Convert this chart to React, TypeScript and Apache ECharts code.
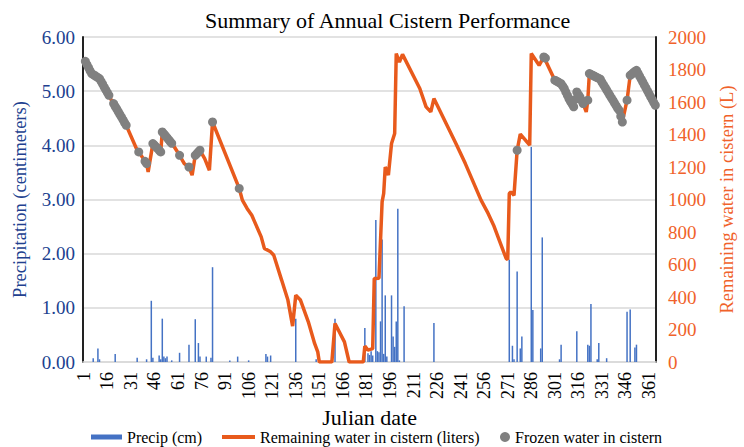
import React, { useEffect, useRef } from "react";
import * as echarts from "echarts";

const FONT = "Liberation Serif";

// Julian days 1..365
const days: string[] = Array.from({ length: 365 }, (_, i) => String(i + 1));

// Daily precipitation (cm), only days with rain: [day, cm]
const precip: [number, number][] = [
  [7, 0.07], [10, 0.25], [11, 0.05], [21, 0.15], [35, 0.08], [41, 0.05],
  [44, 1.13], [45, 0.08], [49, 0.12], [50, 0.05], [51, 0.8], [52, 0.1],
  [53, 0.07], [54, 0.1], [57, 0.03], [62, 0.17], [68, 0.32], [72, 0.79],
  [74, 0.35], [75, 0.1], [79, 0.1], [82, 0.08], [83, 1.75], [94, 0.03],
  [99, 0.1], [106, 0.03], [117, 0.15], [118, 0.1], [120, 0.12], [136, 0.8],
  [149, 0.05], [161, 0.8], [180, 0.63], [182, 0.16], [183, 0.13], [184, 0.2],
  [185, 0.12], [187, 2.62], [188, 0.2], [189, 0.18], [190, 0.75], [191, 2.26],
  [192, 0.15], [193, 1.23], [194, 0.1], [197, 1.23], [198, 0.47], [199, 0.28],
  [200, 0.75], [201, 2.83], [202, 0.03], [205, 1.03], [224, 0.72], [272, 1.89],
  [274, 0.3], [275, 0.05], [277, 1.67], [279, 0.25], [280, 0.47], [286, 3.97],
  [287, 0.96], [292, 0.25], [293, 2.3], [304, 0.05], [305, 0.32], [315, 0.57],
  [322, 0.32], [323, 0.3], [324, 1.07], [328, 0.05], [329, 0.35], [334, 0.07],
  [347, 0.93], [349, 0.97], [352, 0.27], [353, 0.32],
];

// Remaining water in cistern (liters), read at turning points: [day, L]
const remaining: [number, number][] = [
  [1, 1870], [3, 1830], [6, 1775], [11, 1744], [17, 1641], [18, 1621],
  [20, 1590], [28, 1457], [35, 1303], [36, 1293], [41, 1221], [42, 1170],
  [45, 1344], [50, 1293], [51, 1416], [58, 1334], [62, 1272], [65, 1221],
  [68, 1200], [70, 1150], [72, 1272], [75, 1303], [78, 1252], [81, 1180],
  [83, 1477], [100, 1068], [102, 996], [105, 945], [108, 903], [114, 770],
  [116, 699], [120, 678], [122, 657], [127, 504], [131, 381], [134, 221],
  [136, 411], [139, 381], [144, 247], [148, 114], [150, 63], [151, 0],
  [159, 0], [161, 237], [167, 124], [170, 0], [179, 0], [180, 98],
  [182, 73], [185, 82], [186, 514], [189, 516], [191, 985], [192, 1037],
  [193, 1200], [195, 1150], [197, 1344], [199, 1406], [200, 1898], [202, 1846],
  [204, 1893], [215, 1683], [219, 1570], [222, 1539], [224, 1621], [238, 1344],
  [244, 1221], [254, 996], [258, 924], [262, 842], [266, 739], [270, 637],
  [271, 631], [272, 1037], [273, 1047], [275, 1026], [277, 1303], [279, 1402],
  [285, 1334], [286, 1898], [291, 1826], [294, 1877], [301, 1734], [305, 1713],
  [307, 1683], [310, 1620], [313, 1570], [315, 1662], [317, 1631], [319, 1590],
  [321, 1539], [322, 1611], [323, 1775], [330, 1740], [342, 1549], [344, 1477],
  [347, 1611], [349, 1764], [353, 1795], [365, 1580],
];

// Frozen water in cistern (liters): [day, L]
const frozen: [number, number][] = [
  [2, 1850], [3, 1830], [4, 1812], [5, 1793], [6, 1775], [7, 1769], [8, 1763],
  [9, 1756], [10, 1750], [11, 1744], [12, 1727], [13, 1710], [14, 1692],
  [15, 1675], [16, 1658], [17, 1641], [20, 1590], [21, 1573], [22, 1557],
  [23, 1540], [24, 1523], [25, 1507], [26, 1490], [27, 1473], [28, 1457],
  [36, 1293], [40, 1235], [41, 1221], [45, 1344], [46, 1334], [47, 1324],
  [48, 1314], [49, 1303], [50, 1293], [51, 1416], [52, 1404], [53, 1393],
  [54, 1381], [55, 1369], [56, 1357], [57, 1346], [62, 1272], [68, 1200],
  [72, 1272], [73, 1282], [74, 1293], [75, 1303], [83, 1477], [100, 1068],
  [277, 1303], [294, 1877], [295, 1870],
  [301, 1734], [302, 1729], [303, 1724], [304, 1718], [305, 1713], [306, 1698],
  [307, 1683], [308, 1662], [309, 1641], [310, 1620], [311, 1603], [312, 1587],
  [313, 1570], [314, 1616], [315, 1662], [316, 1646], [317, 1631], [318, 1610],
  [319, 1590], [322, 1611], [323, 1775], [324, 1770], [325, 1765], [326, 1760],
  [327, 1755], [328, 1750], [329, 1745], [330, 1740], [331, 1722], [332, 1706],
  [333, 1690], [334, 1674], [335, 1658], [336, 1642], [337, 1626], [338, 1610],
  [339, 1594], [340, 1578], [341, 1562], [342, 1549], [343, 1513], [344, 1477],
  [347, 1611], [349, 1764], [350, 1772], [351, 1780], [352, 1788], [353, 1795],
  [354, 1777], [355, 1759], [356, 1741], [357, 1723], [358, 1705], [359, 1687],
  [360, 1669], [361, 1651], [362, 1633], [363, 1615], [364, 1597], [365, 1580],
];

const BLUE_TEXT = "#213F8F";
const ORANGE_TEXT = "#F0622A";
const LINE_ORANGE = "#E85A1C";
const BAR_BLUE = "#4472C4";
const GRAY = "#808080";

export default function App() {
  const ref = useRef<HTMLDivElement>(null);
  useEffect(() => {
    document.body.style.margin = "0";
    if (!ref.current) return;
    const chart = echarts.init(ref.current, null, { renderer: "svg" });
    const toPair = (arr: [number, number][]) => arr.map(([d, v]) => [String(d), v]);
    const legendText = { fontFamily: FONT, fontSize: 16, color: "#000" };
    chart.setOption({
      animation: false,
      backgroundColor: "#fff",
      textStyle: { fontFamily: FONT },
      title: {
        text: "Summary of Annual Cistern Performance",
        left: 200,
        top: 4,
        textStyle: { fontFamily: FONT, fontSize: 22, fontWeight: "normal", color: "#000" },
      },
      grid: { left: 83, right: 83, top: 37, bottom: 85 },
      legend: [
        {
          data: ["Precip (cm)"],
          left: 86, top: 424, itemWidth: 31, itemHeight: 5, icon: "rect",
          textStyle: legendText,
        },
        {
          data: ["Remaining water in cistern (liters)"],
          left: 217, top: 424, itemWidth: 33, itemHeight: 4, icon: "rect",
          textStyle: legendText,
        },
        {
          data: ["Frozen water in cistern"],
          left: 495, top: 424, itemWidth: 10, itemHeight: 10, icon: "circle",
          textStyle: legendText,
        },
      ],
      xAxis: {
        type: "category",
        data: days,
        boundaryGap: true,
        name: "Julian date",
        nameLocation: "middle",
        nameGap: 33,
        nameTextStyle: { fontFamily: FONT, fontSize: 22, color: "#000", lineHeight: 22 },
        axisLine: { show: true, lineStyle: { color: "#D9D9D9", width: 1.5 } },
        axisTick: { show: false },
        axisLabel: {
          interval: 14,
          rotate: 90,
          margin: 10,
          fontFamily: FONT,
          fontSize: 18,
          color: "#000",
        },
        splitLine: { show: false },
      },
      yAxis: [
        {
          type: "value",
          min: 0,
          max: 6,
          interval: 1,
          name: "Precipitation (centimeters)",
          nameLocation: "middle",
          nameGap: 54,
          nameTextStyle: { fontFamily: FONT, fontSize: 18.5, color: BLUE_TEXT },
          axisLine: { show: true, lineStyle: { color: "#222", width: 2 } },
          axisTick: { show: false },
          axisLabel: {
            formatter: (v: number) => v.toFixed(2),
            margin: 8,
            fontFamily: FONT,
            fontSize: 19,
            color: BLUE_TEXT,
          },
          splitLine: { show: true, lineStyle: { color: "#D9D9D9", width: 1.5 } },
        },
        {
          type: "value",
          min: 0,
          max: 2000,
          interval: 200,
          name: "Remaining water in cistern (L)",
          nameLocation: "middle",
          nameGap: 60,
          nameTextStyle: { fontFamily: FONT, fontSize: 18.5, color: ORANGE_TEXT },
          axisLine: { show: true, lineStyle: { color: "#222", width: 2 } },
          axisTick: { show: false },
          axisLabel: {
            formatter: (v: number) => String(v),
            margin: 12,
            fontFamily: FONT,
            fontSize: 19,
            color: ORANGE_TEXT,
          },
          splitLine: { show: false },
        },
      ],
      series: [
        {
          name: "Precip (cm)",
          type: "bar",
          yAxisIndex: 0,
          barWidth: 1.5,
          itemStyle: { color: BAR_BLUE },
          data: toPair(precip),
        },
        {
          name: "Remaining water in cistern (liters)",
          type: "line",
          yAxisIndex: 1,
          showSymbol: false,
          symbol: "none",
          lineStyle: { color: LINE_ORANGE, width: 3.5 },
          itemStyle: { color: LINE_ORANGE },
          data: toPair(remaining),
          z: 3,
        },
        {
          name: "Frozen water in cistern",
          type: "scatter",
          yAxisIndex: 1,
          symbolSize: 9,
          itemStyle: { color: GRAY, opacity: 1 },
          data: toPair(frozen),
          z: 4,
        },
      ],
    });
    return () => chart.dispose();
  }, []);
  return (
    <div
      ref={ref}
      style={{ width: 744, height: 447, position: "absolute", left: 0, top: 0 }}
    />
  );
}
